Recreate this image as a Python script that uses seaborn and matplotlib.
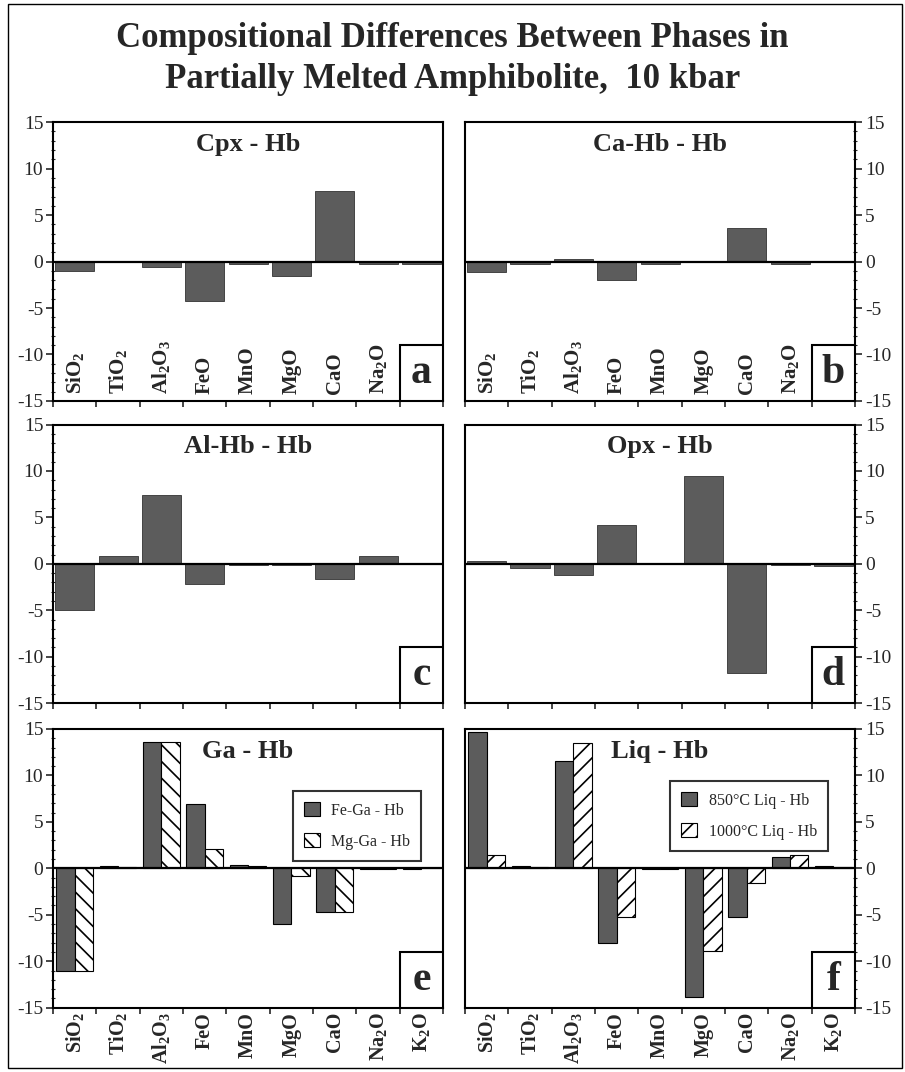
import matplotlib
matplotlib.use('Agg')
import numpy as np
import pandas as pd
import matplotlib.pyplot as plt
import seaborn as sns
from matplotlib.patches import Rectangle
from matplotlib.ticker import MultipleLocator

sns.set_style('ticks')
plt.rcParams['font.family'] = ['Liberation Serif', 'DejaVu Serif']
plt.rcParams['mathtext.default'] = 'regular'
plt.rcParams['axes.unicode_minus'] = False
plt.rcParams['hatch.linewidth'] = 1.2

# oxide categories (same order in every panel)
OXIDES = ['SiO$_2$', 'TiO$_2$', 'Al$_2$O$_3$', 'FeO', 'MnO', 'MgO', 'CaO', 'Na$_2$O', 'K$_2$O']

# differences (wt%)
cpx_hb = [-1.05, -0.1, -0.6, -4.2, -0.25, -1.5, 7.6, -0.3, -0.3]
cahb_hb = [-1.1, -0.3, 0.25, -2.0, -0.3, 0.05, 3.6, -0.3, 0.0]
alhb_hb = [-5.0, 0.85, 7.4, -2.15, -0.1, -0.1, -1.65, 0.9, 0.0]
opx_hb = [0.3, -0.4, -1.15, 4.2, 0.05, 9.5, -11.75, -0.1, -0.2]
fe_ga_hb = [-11.0, 0.2, 13.6, 6.9, 0.35, -6.0, -4.7, -0.1, -0.1]
mg_ga_hb = [-11.0, 0.15, 13.6, 2.1, 0.3, -0.85, -4.7, -0.1, 0.0]
liq850_hb = [14.7, 0.2, 11.5, -8.0, -0.1, -13.9, -5.2, 1.2, 0.25]
liq1000_hb = [1.45, 0.15, 13.5, -5.2, -0.1, -8.9, -1.6, 1.45, 0.15]

GA_SERIES = ['Fe-Ga - Hb', 'Mg-Ga - Hb']
LIQ_SERIES = ['850°C Liq - Hb', '1000°C Liq - Hb']

DARK = '#5c5c5c'

fig = plt.figure(figsize=(9.05, 10.72), dpi=100)

# panel positions (figure fraction)
LEFT_X, RIGHT_X, W = 0.0586, 0.5138, 0.431
ROW_Y = [0.626, 0.344, 0.060]
H = 0.260


def style_axes(ax, title, letter, right, labels):
    ax.set_xlim(-0.5, 8.5)
    ax.set_ylim(-15, 15)
    ax.set_xlabel('')
    ax.set_ylabel('')
    ax.axhline(0, color='black', lw=1.6, zorder=3)
    for sp in ax.spines.values():
        sp.set_visible(True)
        sp.set_linewidth(1.5)
        sp.set_color('black')

    ax.yaxis.set_major_locator(MultipleLocator(5))
    ax.yaxis.set_minor_locator(MultipleLocator(1))
    if right:
        ax.yaxis.tick_right()
    ax.tick_params(axis='y', which='major', direction='out', length=5, width=1.2, labelsize=14, pad=2)
    ax.tick_params(axis='y', which='minor', direction='inout', length=3, width=0.8)

    ax.set_xticks(np.arange(-0.5, 9, 1), minor=True)
    ax.set_xticks(range(len(OXIDES)))
    ax.tick_params(axis='x', which='minor', direction='out', length=4, width=1.2)
    if labels == 'inside':
        ax.set_xticklabels(OXIDES[:-1] + [''], rotation=90, fontsize=15, fontweight='bold')
        ax.tick_params(axis='x', which='major', length=0, pad=-5)
        for lab in ax.get_xticklabels():
            lab.set_va('bottom')
    elif labels == 'below':
        ax.set_xticklabels(OXIDES, rotation=90, fontsize=14.5, fontweight='bold')
        ax.tick_params(axis='x', which='major', length=0, pad=3)
    else:
        ax.set_xticklabels([])
        ax.tick_params(axis='x', which='major', length=0)

    ax.text(0.5, 0.92, title, transform=ax.transAxes, ha='center', va='center',
            fontsize=19, fontweight='bold')
    # letter box in the last slot
    ax.add_patch(Rectangle((7.5, -15), 1, 6, facecolor='white', edgecolor='black', lw=1.5, zorder=4))
    ax.text(8, -12, letter, ha='center', va='center', fontsize=30, fontweight='bold', zorder=5)


def single_panel(pos, values, title, letter, right, labels):
    ax = fig.add_axes(pos)
    sns.barplot(x=OXIDES, y=values, color=DARK, width=0.9, saturation=1, errorbar=None,
                edgecolor='#333333', linewidth=0.6, ax=ax)
    style_axes(ax, title, letter, right, labels)
    return ax


def pair_panel(pos, v1, v2, names, hatch, title, letter, right, legend_anchor):
    ax = fig.add_axes(pos)
    df = pd.DataFrame({
        'oxide': OXIDES * 2,
        'value': v1 + v2,
        'series': [names[0]] * len(OXIDES) + [names[1]] * len(OXIDES),
    })
    sns.barplot(data=df, x='oxide', y='value', hue='series', hue_order=names,
                palette=[DARK, 'white'], width=0.85, saturation=1, errorbar=None,
                edgecolor='black', linewidth=0.8, legend=False, ax=ax)
    for bar in ax.containers[1]:
        bar.set_hatch(hatch)
    style_axes(ax, title, letter, right, 'below')
    leg = ax.legend(ax.containers[:2], names, loc='upper right', bbox_to_anchor=legend_anchor,
                    fontsize=11.5, frameon=True, fancybox=False, handlelength=1.0,
                    handleheight=1.0, handletextpad=0.7, borderpad=0.7, labelspacing=0.9)
    leg.get_frame().set_edgecolor('black')
    leg.get_frame().set_linewidth(1.5)
    leg.set_zorder(6)
    return ax


single_panel([LEFT_X, ROW_Y[0], W, H], cpx_hb, 'Cpx - Hb', 'a', False, 'inside')
single_panel([RIGHT_X, ROW_Y[0], W, H], cahb_hb, 'Ca-Hb - Hb', 'b', True, 'inside')
single_panel([LEFT_X, ROW_Y[1], W, H], alhb_hb, 'Al-Hb - Hb', 'c', False, 'none')
single_panel([RIGHT_X, ROW_Y[1], W, H], opx_hb, 'Opx - Hb', 'd', True, 'none')
pair_panel([LEFT_X, ROW_Y[2], W, H], fe_ga_hb, mg_ga_hb, GA_SERIES, '\\\\',
           'Ga - Hb', 'e', False, (0.964, 0.806))
pair_panel([RIGHT_X, ROW_Y[2], W, H], liq850_hb, liq1000_hb, LIQ_SERIES, '//',
           'Liq - Hb', 'f', True, (0.951, 0.842))

fig.text(0.5, 0.964, 'Compositional Differences Between Phases in', ha='center', va='center',
         fontsize=25, fontweight='bold')
fig.text(0.5, 0.926, 'Partially Melted Amphibolite,  10 kbar', ha='center', va='center',
         fontsize=25, fontweight='bold')

# outer frame
fig.add_artist(Rectangle((0.009, 0.004), 0.988, 0.992, transform=fig.transFigure,
                         fill=False, lw=1.0, ec='black'))

plt.savefig('out.png', dpi=100, facecolor='white')
